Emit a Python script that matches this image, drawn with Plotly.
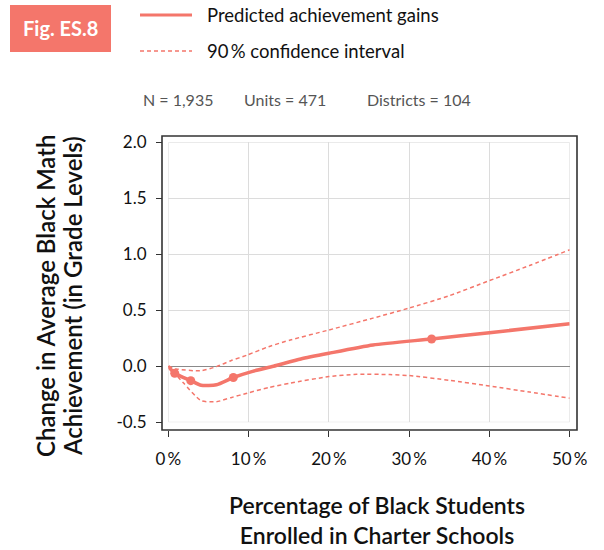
import plotly.graph_objects as go

# ---- data ----
pred_x = [0, 0.8, 2.8, 4.1, 6.0, 8.1, 10.5, 13.1, 16.5, 20, 25.5, 32.8, 40, 50]
pred_y = [0, -0.062, -0.128, -0.17, -0.165, -0.10, -0.045, 0.0, 0.065, 0.116, 0.19, 0.244, 0.30, 0.38]
marker_x = [0.8, 2.8, 8.1, 32.8]
marker_y = [-0.062, -0.128, -0.10, 0.244]
upper_x = [0, 1.0, 4.0, 6.0, 7.8, 9.8, 12.5, 15.2, 20, 25.5, 30, 35, 40, 45, 50]
upper_y = [0, -0.024, -0.04, -0.003, 0.05, 0.10, 0.175, 0.235, 0.324, 0.43, 0.52, 0.63, 0.765, 0.90, 1.04]
lower_x = [0, 1.9, 4.1, 6.0, 7.8, 9.8, 12.5, 15.2, 20, 23.5, 27.6, 30, 35, 40, 45, 50]
lower_y = [0, -0.15, -0.307, -0.316, -0.28, -0.24, -0.19, -0.15, -0.092, -0.071, -0.074, -0.083, -0.125, -0.176, -0.23, -0.285]

x_tickvals = [0, 10, 20, 30, 40, 50]
x_ticktext = ["0\u2009%", "10\u2009%", "20\u2009%", "30\u2009%", "40\u2009%", "50\u2009%"]
y_tickvals = [-0.5, 0.0, 0.5, 1.0, 1.5, 2.0]
y_ticktext = ["-0.5", "0.0", "0.5", "1.0", "1.5", "2.0"]

legend_labels = ["Predicted achievement gains", "90\u2009% confidence interval"]
stats_text = ["N = 1,935", "Units = 471", "Districts = 104"]
fig_label = "Fig. ES.8"
x_title = ["Percentage of Black Students", "Enrolled in Charter Schools"]
y_title = ["Change in Average Black Math", "Achievement (in Grade Levels)"]

# ---- styling ----
RED = "#F4766B"
FONT = "Lato"
W, H = 604, 550

def px(x):
    return x / W

def py(y):
    return (H - y) / H

fig = go.Figure()
fig.add_trace(go.Scatter(x=upper_x, y=upper_y, mode="lines", line=dict(color=RED, width=1.5, dash="4px,3px", shape="spline", smoothing=0.6), showlegend=False, hoverinfo="skip"))
fig.add_trace(go.Scatter(x=lower_x, y=lower_y, mode="lines", line=dict(color=RED, width=1.5, dash="4px,3px", shape="spline", smoothing=0.6), showlegend=False, hoverinfo="skip"))
fig.add_trace(go.Scatter(x=pred_x, y=pred_y, mode="lines", line=dict(color=RED, width=3.5, shape="spline", smoothing=0.6), showlegend=False))
fig.add_trace(go.Scatter(x=marker_x, y=marker_y, mode="markers", marker=dict(color=RED, size=9), showlegend=False))

shapes = [
    dict(type="rect", xref="x", yref="y", x0=0, x1=50, y0=-0.5, y1=2.0, line=dict(color="#dcdcdc", width=1), layer="below"),
    dict(type="rect", xref="paper", yref="paper", x0=px(162), x1=px(577), y0=py(430), y1=py(136), line=dict(color="#333333", width=1.6)),
    dict(type="rect", xref="paper", yref="paper", x0=px(10), x1=px(111), y0=py(52), y1=py(5), fillcolor=RED, line=dict(width=0)),
    dict(type="line", xref="paper", yref="paper", x0=px(140), x1=px(192), y0=py(15), y1=py(15), line=dict(color=RED, width=3)),
    dict(type="line", xref="paper", yref="paper", x0=px(140), x1=px(192), y0=py(51), y1=py(51), line=dict(color=RED, width=1.3, dash="4px,3px")),
]

TW = 600
annotations = [
    dict(text=fig_label, x=px(60.5), y=py(28), xref="paper", yref="paper", showarrow=False, xanchor="center", yanchor="middle", font=dict(family=FONT, size=20, color="white", weight="bold")),
    dict(text=legend_labels[0], x=px(205), y=py(15), xref="paper", yref="paper", showarrow=False, xanchor="left", yanchor="middle", font=dict(family=FONT, size=18.5, color="#111")),
    dict(text=legend_labels[1], x=px(205), y=py(51), xref="paper", yref="paper", showarrow=False, xanchor="left", yanchor="middle", font=dict(family=FONT, size=18.5, color="#111")),
    dict(text=stats_text[0], x=px(141), y=py(99), xref="paper", yref="paper", showarrow=False, xanchor="left", yanchor="middle", font=dict(family=FONT, size=16, color="#555")),
    dict(text=stats_text[1], x=px(242), y=py(99), xref="paper", yref="paper", showarrow=False, xanchor="left", yanchor="middle", font=dict(family=FONT, size=16, color="#555")),
    dict(text=stats_text[2], x=px(365), y=py(99), xref="paper", yref="paper", showarrow=False, xanchor="left", yanchor="middle", font=dict(family=FONT, size=16, color="#555")),
    dict(text="<br>".join(x_title), x=px(377), y=py(520), xref="paper", yref="paper", showarrow=False, xanchor="center", yanchor="middle", font=dict(family=FONT, size=23, color="#111", weight=TW)),
    dict(text=y_title[0], x=px(45), y=py(296), xref="paper", yref="paper", showarrow=False, xanchor="center", yanchor="middle", textangle=-90, font=dict(family=FONT, size=24, color="#111", weight=TW)),
    dict(text=y_title[1], x=px(72), y=py(296), xref="paper", yref="paper", showarrow=False, xanchor="center", yanchor="middle", textangle=-90, font=dict(family=FONT, size=24, color="#111", weight=TW)),
]

fig.update_layout(
    width=W, height=H,
    margin=dict(l=0, r=0, t=0, b=0),
    paper_bgcolor="white", plot_bgcolor="white",
    showlegend=False,
    shapes=shapes, annotations=annotations,
    font=dict(family=FONT, size=17, color="#111"),
    xaxis=dict(
        domain=[px(168.3), px(569.7)], range=[0, 50],
        anchor="free", position=py(430),
        tickvals=x_tickvals, ticktext=x_ticktext,
        ticks="outside", ticklen=6, tickcolor="#333", tickwidth=1.3,
        showline=False, showgrid=True, gridcolor="#dcdcdc", gridwidth=1,
        zeroline=False, automargin=False,
        tickfont=dict(family=FONT, size=17, color="#111"),
        ticklabelstandoff=8,
    ),
    yaxis=dict(
        domain=[py(422.3), py(142.3)], range=[-0.5, 2.0],
        anchor="free", position=px(162),
        tickvals=y_tickvals, ticktext=y_ticktext,
        ticks="outside", ticklen=6, tickcolor="#333", tickwidth=1.3,
        showline=False, showgrid=True, gridcolor="#dcdcdc", gridwidth=1,
        zeroline=True, zerolinecolor="#8a8a8a", zerolinewidth=1.2,
        automargin=False,
        tickfont=dict(family=FONT, size=17, color="#111"),
        ticklabelstandoff=6,
    ),
)

fig.write_html("out.html", config={"displayModeBar": False}, post_script="document.body.style.margin='0';")
